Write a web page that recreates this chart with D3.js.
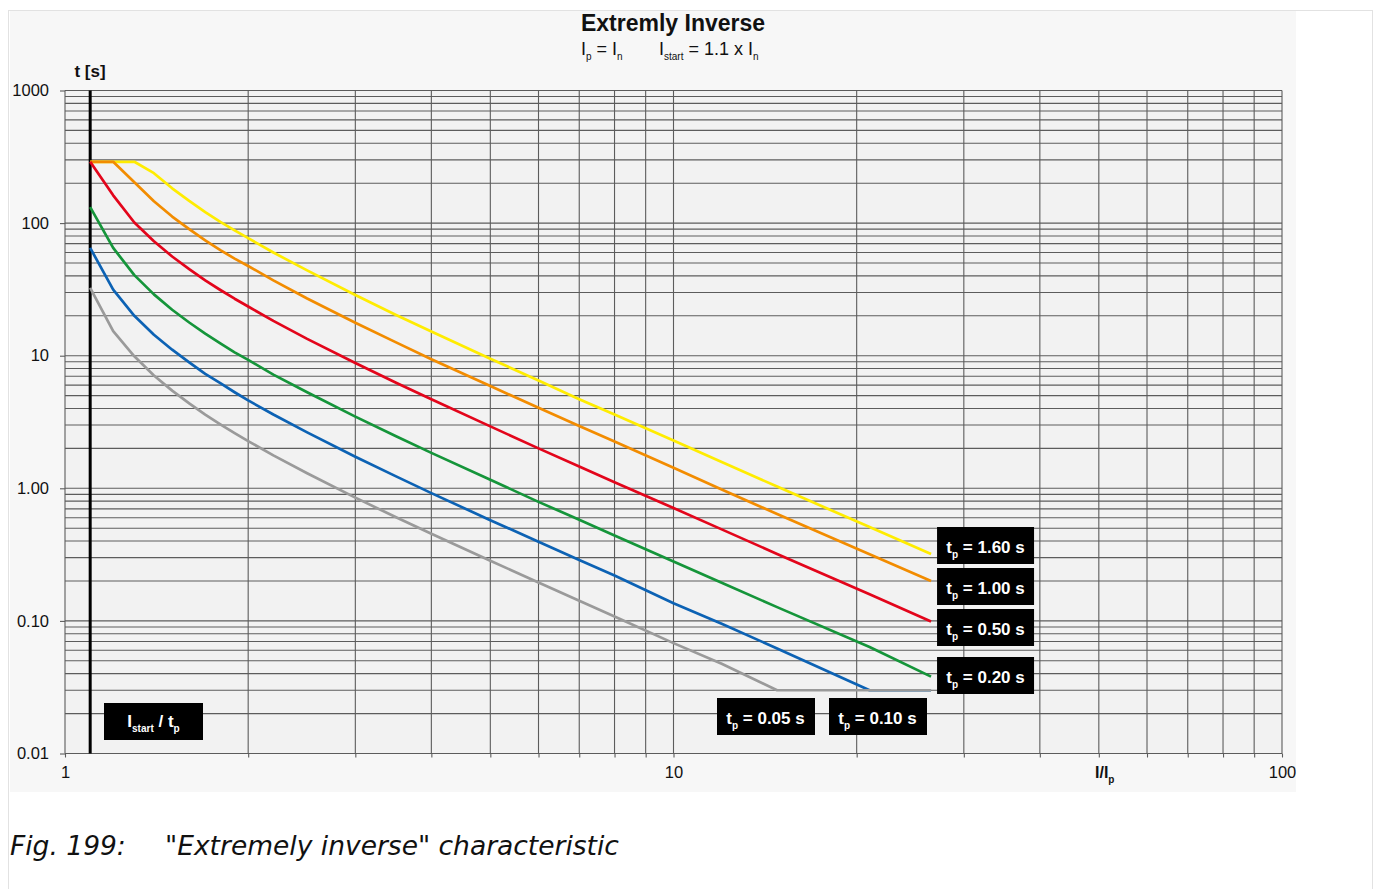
<!DOCTYPE html>
<html><head><meta charset="utf-8">
<script src="https://cdn.jsdelivr.net/npm/d3@7"></script>
<style>
body{margin:0;background:#fff}
svg{display:block}
text{white-space:pre}
</style>
</head><body><svg id="c" width="1378" height="889" font-family="Liberation Sans, Arial, sans-serif"></svg>
<script>
// ---------- data ----------
const currents = [1.1,1.2,1.3,1.4,1.5,1.6,1.7,1.8,1.9,2,2.2,2.5,3,3.5,4,5,6,7,8,10,12,14.8,21,26.5];
const tp160 = [290,290,290,238,183,147,121,102,88,77,60,44,28.7,20.3,15.2,9.5,6.5,4.7,3.6,2.29,1.58,1.03,0.51,0.32];
const tp100 = [290,290,203,146,112,90,74,62.5,54,47.5,37,27,17.7,12.6,9.4,5.9,4.05,2.95,2.25,1.43,0.98,0.64,0.318,0.2];
const tp050 = [290,162,101,73,56,45,37,31.3,26.9,23.5,18.3,13.4,8.8,6.25,4.7,2.93,2.0,1.46,1.11,0.71,0.49,0.32,0.159,0.099];
const tp020 = [132,65,40.5,29,22.2,17.8,14.7,12.4,10.6,9.3,7.2,5.3,3.47,2.47,1.85,1.16,0.79,0.58,0.44,0.28,0.194,0.127,0.0636,0.038];
const tp010 = [65,31.5,20,14.4,11.1,8.9,7.3,6.2,5.3,4.6,3.6,2.64,1.73,1.23,0.92,0.575,0.395,0.288,0.22,0.136,0.095,0.062,0.03,0.03];
const tp005 = [32.5,15.3,9.9,7.1,5.45,4.37,3.6,3.04,2.61,2.27,1.77,1.3,0.85,0.605,0.454,0.284,0.195,0.142,0.108,0.068,0.0475,0.03,0.03,0.03];
const seriesNames = ["1.60","1.00","0.50","0.20","0.10","0.05"];
const seriesValues = [tp160,tp100,tp050,tp020,tp010,tp005];
const seriesColors = ["#ffec00","#f28c00","#e3051b","#15953a","#0c62b4","#9a9a9a"];
const yTickValues = [0.01,0.1,1,10,100,1000];
const yTickLabels = ["0.01","0.10","1.00","10","100","1000"];
const xTickValues = [1,10,100];
const xTickLabels = ["1","10","100"];
const iStart = 1.1;

// ---------- layout ----------
const svg = d3.select("#c");
const x = d3.scaleLog().domain([1,100]).range([65,1282]);
const y = d3.scaleLog().domain([0.01,1000]).range([753.5,90.5]);

svg.append("rect").attr("x",8.5).attr("y",10.5).attr("width",1364).attr("height",900)
  .attr("fill","#fff").attr("stroke","#e2e2e2");
svg.append("rect").attr("x",10).attr("y",11).attr("width",1286).attr("height",781).attr("fill","#f7f7f7");
svg.append("rect").attr("x",x(1)).attr("y",y(1000)).attr("width",x(100)-x(1)).attr("height",y(0.01)-y(1000)).attr("fill","#f2f2f2");

// grid
const xGrid=[], yGrid=[];
for (let d=1; d<100; d*=10) for (let m=1; m<10; m++) xGrid.push(d*m);
xGrid.push(100);
for (let d=0.01; d<999; d*=10) for (let m=1; m<10; m++) yGrid.push(+(d*m).toPrecision(3));
yGrid.push(1000);
const grid = svg.append("g").attr("stroke","#5c5c5c").attr("stroke-width",1.1);
grid.selectAll("line.h").data(yGrid).join("line").attr("class","h")
  .attr("x1",x(1)).attr("x2",x(100)).attr("y1",d=>y(d)).attr("y2",d=>y(d));
grid.selectAll("line.v").data(xGrid).join("line").attr("class","v")
  .attr("x1",d=>x(d)).attr("x2",d=>x(d)).attr("y1",y(1000)).attr("y2",y(0.01));

// axes
const yAxis = d3.axisLeft(y).tickValues(yTickValues).tickSize(5).tickPadding(11)
  .tickFormat((d,i)=>yTickLabels[i]);
const ga = svg.append("g").attr("transform",`translate(${x(1)},0)`).call(yAxis);
ga.select(".domain").remove();
ga.selectAll("line").attr("stroke","#5c5c5c").attr("stroke-width",1.1);
ga.attr("font-family",null).attr("font-size",16.5);
ga.selectAll("text").attr("fill","#111");

const xAxisTicks = d3.axisBottom(x).tickValues(xGrid).tickSize(4).tickFormat("");
const gx1 = svg.append("g").attr("transform",`translate(0,${y(0.01)})`).call(xAxisTicks);
gx1.select(".domain").remove();
gx1.selectAll("line").attr("stroke","#5c5c5c").attr("stroke-width",1.1);
const xAxis = d3.axisBottom(x).tickValues(xTickValues).tickSize(0).tickPadding(13)
  .tickFormat((d,i)=>xTickLabels[i]);
const gx = svg.append("g").attr("transform",`translate(0,${y(0.01)})`).call(xAxis);
gx.select(".domain").remove();
gx.attr("font-family",null).attr("font-size",16.5);
gx.selectAll("text").attr("fill","#111");

// I_start vertical line
svg.append("line").attr("x1",x(iStart)).attr("x2",x(iStart)).attr("y1",y(1000)).attr("y2",y(0.01))
  .attr("stroke","#000").attr("stroke-width",3);

// curves
const line = d3.line().x((d,i)=>x(currents[i])).y(d=>y(d));
svg.append("g").selectAll("path").data(seriesValues).join("path")
  .attr("d",d=>line(d)).attr("fill","none")
  .attr("stroke",(d,i)=>seriesColors[i]).attr("stroke-width",2.7)
  .attr("stroke-linejoin","round");

function rich(g, tx, ty, parts, size, subSize, weight, anchor, fill){
  const t = g.append("text").attr("x",tx).attr("y",ty).attr("font-size",size)
    .attr("font-weight",weight).attr("text-anchor",anchor).attr("fill",fill);
  let prevSub=false;
  parts.forEach(([s,sub])=>{
    const ts=t.append("tspan").text(s);
    if(sub){ ts.attr("font-size",subSize); if(!prevSub) ts.attr("dy",5); }
    else if(prevSub){ ts.attr("dy",-5); }
    prevSub=sub;
  });
  return t;
}

// labels
const lab = svg.append("g");
const boxW=97, boxH=37;
const rightTops=[527,568,609,657];
rightTops.forEach((top,i)=>{
  const left = x(currents[currents.length-1])+6;
  lab.append("rect").attr("x",left).attr("y",top).attr("width",boxW).attr("height",boxH).attr("fill","#000");
  rich(lab,left+boxW/2,top+26,[["t",false],["p",true],[" = "+seriesNames[i]+" s",false]],17,10,"bold","middle","#fff");
});
[[829,4],[717,5]].forEach(([left,i])=>{
  const top=698;
  lab.append("rect").attr("x",left).attr("y",top).attr("width",boxW+1).attr("height",boxH).attr("fill","#000");
  rich(lab,left+boxW/2,top+26,[["t",false],["p",true],[" = "+seriesNames[i]+" s",false]],17,10,"bold","middle","#fff");
});
lab.append("rect").attr("x",104).attr("y",703).attr("width",99).attr("height",37).attr("fill","#000");
rich(lab,153.5,727,[["I",false],["start",true],[" / t",false],["p",true]],17,10,"bold","middle","#fff");

// titles
svg.append("text").attr("x",673).attr("y",31).attr("text-anchor","middle").attr("font-size",23)
  .attr("font-weight","bold").attr("fill","#111").text("Extremly Inverse");
rich(svg,581,55,[["I",false],["p",true],[" = I",false],["n",true]],18,10,"normal","start","#111");
rich(svg,659,55,[["I",false],["start",true],[" = 1.1 x I",false],["n",true]],18,10,"normal","start","#111");
svg.append("text").attr("x",90).attr("y",77).attr("text-anchor","middle").attr("font-size",17)
  .attr("font-weight","bold").attr("fill","#111").text("t [s]");
rich(svg,1095,778,[["I/I",false],["p",true]],16,10,"bold","start","#111");

// caption
svg.append("text").attr("x",10).attr("y",855).attr("font-size",26.5).attr("font-style","italic")
  .style("font-family","'DejaVu Sans', sans-serif").attr("fill","#111").text("Fig. 199:");
svg.append("text").attr("x",165).attr("y",855).attr("font-size",26.5).attr("font-style","italic")
  .style("font-family","'DejaVu Sans', sans-serif").attr("fill","#111").text("\"Extremely inverse\" characteristic");
</script></body></html>
